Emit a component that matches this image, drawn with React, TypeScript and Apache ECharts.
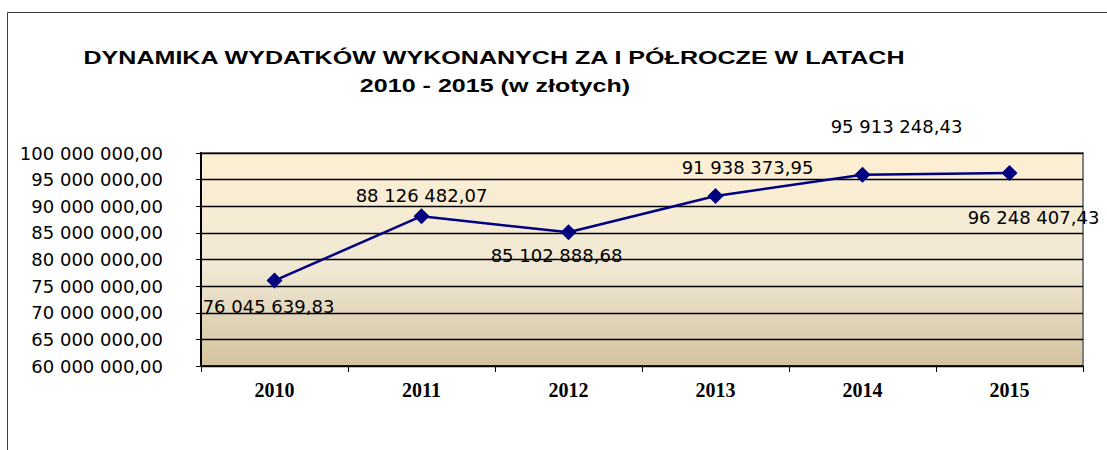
import React, { useEffect, useRef } from "react";
import * as echarts from "echarts";

const years = ["2010", "2011", "2012", "2013", "2014", "2015"];
const values = [76045639.83, 88126482.07, 85102888.68, 91938373.95, 95913248.43, 96248407.43];
// label offsets relative to each point (px)
const labelOffsets: [number, number][] = [
  [-6, 26],
  [0, -21],
  [-12, 23],
  [32, -28],
  [34, -48],
  [24, 45],
];
const titleLine1 = "DYNAMIKA WYDATKÓW WYKONANYCH ZA I PÓŁROCZE W LATACH";
const titleLine2 = "2010 - 2015 (w złotych)";
const yMin = 60000000;
const yMax = 100000000;
const yStep = 5000000;

function fmt(v: number): string {
  const [i, d] = v.toFixed(2).split(".");
  const withSpaces = i.replace(/\B(?=(\d{3})+(?!\d))/g, " ");
  return withSpaces + "," + d;
}

export default function App() {
  const ref = useRef<HTMLDivElement>(null);
  useEffect(() => {
    if (!ref.current) return;
    const chart = echarts.init(ref.current, undefined, { renderer: "svg" });
    chart.setOption({
      animation: false,
      backgroundColor: "#ffffff",
      graphic: [
        {
          type: "rect",
          z: -10,
          shape: { x: 7.5, y: 12.5, width: 1300, height: 600 },
          style: { fill: "none", stroke: "#3c3c3c", lineWidth: 1 },
        },
        {
          type: "text",
          x: 494,
          y: 58,
          scaleX: 1.32,
          style: {
            text: titleLine1,
            fontFamily: "Liberation Sans, Arial, sans-serif",
            fontWeight: "bold",
            fontSize: 19,
            fill: "#000",
            align: "center",
            verticalAlign: "middle",
          },
        },
        {
          type: "text",
          x: 495,
          y: 86,
          scaleX: 1.32,
          style: {
            text: titleLine2,
            fontFamily: "Liberation Sans, Arial, sans-serif",
            fontWeight: "bold",
            fontSize: 19,
            fill: "#000",
            align: "center",
            verticalAlign: "middle",
          },
        },
      ],
      grid: {
        left: 201,
        right: 24,
        top: 153,
        bottom: 84,
        show: true,
        borderColor: "#808080",
        borderWidth: 2,
        backgroundColor: new echarts.graphic.LinearGradient(0, 0, 0, 1, [
          { offset: 0, color: "#fdefd3" },
          { offset: 0.55, color: "#f0e8d4" },
          { offset: 1, color: "#d3c29d" },
        ]),
      },
      xAxis: {
        type: "category",
        data: years,
        boundaryGap: true,
        axisLine: { show: true, lineStyle: { color: "#000", width: 1.5 } },
        axisTick: { show: true, alignWithLabel: false, length: 6, lineStyle: { color: "#000" } },
        axisLabel: {
          margin: 14,
          color: "#000",
          fontFamily: "Liberation Serif, Times New Roman, serif",
          fontWeight: "bold",
          fontSize: 20,
        },
        splitLine: { show: false },
      },
      yAxis: {
        type: "value",
        min: yMin,
        max: yMax,
        interval: yStep,
        axisLine: { show: true, lineStyle: { color: "#000", width: 2 } },
        axisTick: { show: true, length: 5, lineStyle: { color: "#000" } },
        axisLabel: {
          margin: 38,
          color: "#000",
          fontFamily: "DejaVu Sans, Verdana, sans-serif",
          fontSize: 18,
          formatter: (v: number) => fmt(v),
        },
        splitLine: { show: true, lineStyle: { color: "#000", width: 1.3 } },
      },
      series: [
        {
          type: "line",
          data: values.map((v, i) => ({
            value: v,
            label: { offset: labelOffsets[i] },
          })),
          symbol: "diamond",
          symbolSize: 16,
          lineStyle: { color: "#000080", width: 2.5 },
          itemStyle: { color: "#000080" },
          label: {
            show: true,
            position: "inside",
            color: "#000",
            fontFamily: "DejaVu Sans, Verdana, sans-serif",
            fontSize: 18,
            formatter: (p: any) => fmt(p.value as number),
          },
          z: 5,
        },
      ],
    });
    return () => chart.dispose();
  }, []);
  return (
    <div
      ref={ref}
      style={{ position: "fixed", left: 0, top: 0, width: 1107, height: 450 }}
    />
  );
}
